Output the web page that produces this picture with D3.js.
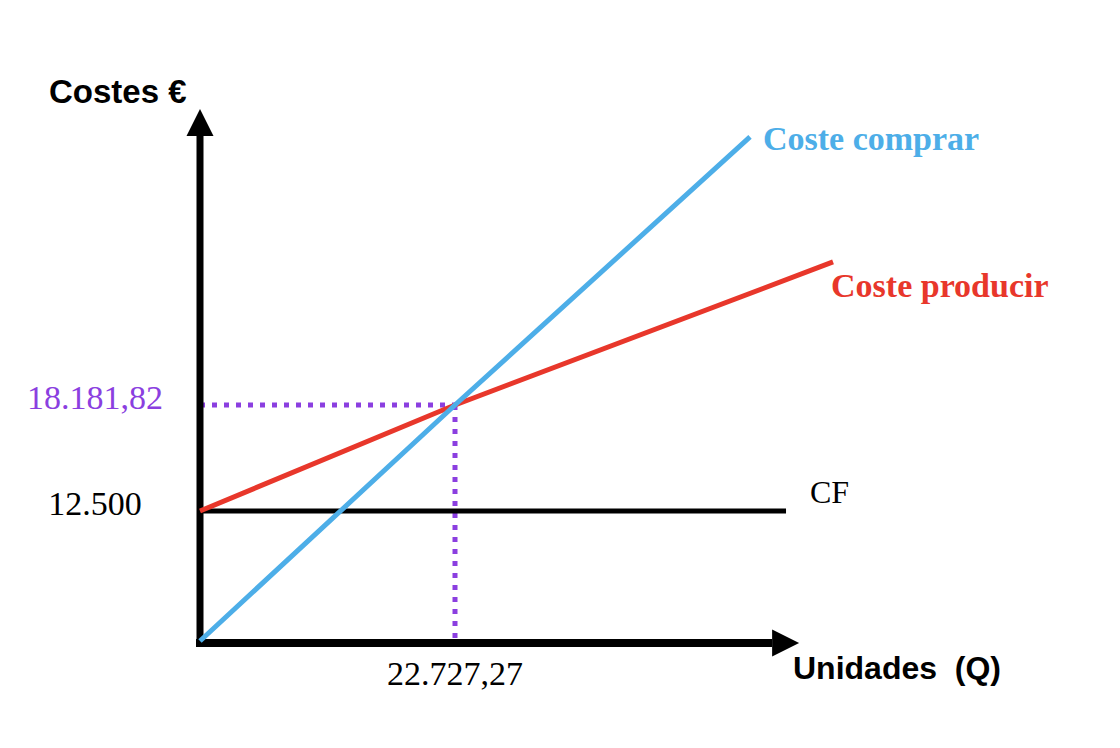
<!DOCTYPE html>
<html>
<head>
<meta charset="utf-8">
<script src="https://cdn.jsdelivr.net/npm/d3@7"></script>
<style>
  body { margin: 0; background: #fff; }
  svg { display: block; }
  .sans { font-family: "Liberation Sans", Arial, sans-serif; font-weight: bold; }
  .serif { font-family: "Liberation Serif", "Times New Roman", serif; }
</style>
</head>
<body>
<div id="chart"></div>
<script>
// break-even point and fixed cost (values written on the chart)
const qEquilibrio = 22727.27;
const costeEquilibrio = 18181.82;
const costeFijo = 12500;

// series, [Q, coste] (it is not to scale)
const costeComprar = [[0, 0], [qEquilibrio, costeEquilibrio], [49020, 32550]];
const costeProducir = [[0, costeFijo], [qEquilibrio, costeEquilibrio], [56420, 25850]];
const cf = [[0, costeFijo], [52230, costeFijo]];

// tick labels
const yLabels = [
  { value: costeEquilibrio, text: '18.181,82', color: '#8b3fe0' },
  { value: costeFijo, text: '12.500', color: '#000' },
];
const xLabels = [{ value: qEquilibrio, text: '22.727,27' }];

// axis ends (arrow tips)
const qMax = 53400;
const costeMax = 34050;

const width = 1120;
const height = 748;

const svg = d3.select('#chart')
  .append('svg')
  .attr('width', width)
  .attr('height', height);

const xScale = d3.scaleLinear().domain([0, qEquilibrio]).range([200, 455]);
// sketch is not proportional: piecewise scale through the labelled values
const yScale = d3.scaleLinear()
  .domain([0, costeFijo, costeEquilibrio])
  .range([641, 511, 405]);

const line = d3.line()
  .x(d => xScale(d[0]))
  .y(d => yScale(d[1]));

const x0 = xScale(0), y0 = yScale(0) + 2;

// dotted guides to the break-even point
const guides = svg.append('g')
  .attr('stroke', '#8b3fe0')
  .attr('stroke-width', 5)
  .attr('stroke-dasharray', '5,7')
  .attr('fill', 'none');
guides.append('path')
  .attr('d', line([[0, costeEquilibrio], [qEquilibrio, costeEquilibrio]]));
guides.append('path')
  .attr('d', `M${xScale(qEquilibrio)},${yScale(costeEquilibrio)}V${y0}`);

// axes
const head = 27;
svg.append('path')
  .attr('d', `M${x0},${y0 + 4}V${yScale(costeMax) + head}`)
  .attr('stroke', '#000').attr('stroke-width', 7);
svg.append('path')
  .attr('d', `M${x0},${yScale(costeMax)}l${-head / 2},${head}h${head}z`)
  .attr('fill', '#000');
svg.append('path')
  .attr('d', `M${x0 - 4},${y0}H${xScale(qMax) - head}`)
  .attr('stroke', '#000').attr('stroke-width', 8);
svg.append('path')
  .attr('d', `M${xScale(qMax)},${y0}l${-head},${-head / 2}v${head}z`)
  .attr('fill', '#000');

// cost lines
svg.append('path').attr('d', line(cf))
  .attr('fill', 'none').attr('stroke', '#000').attr('stroke-width', 5);
svg.append('path').attr('d', line(costeProducir))
  .attr('fill', 'none').attr('stroke', '#e8372b').attr('stroke-width', 5);
svg.append('path').attr('d', line(costeComprar))
  .attr('fill', 'none').attr('stroke', '#4daee8').attr('stroke-width', 5);

// line labels
const lastC = costeComprar[costeComprar.length - 1];
svg.append('text').attr('class', 'serif')
  .attr('x', xScale(lastC[0]) + 13).attr('y', yScale(lastC[1]) + 13)
  .attr('font-size', 34).attr('font-weight', 'bold').attr('fill', '#4daee8')
  .text('Coste comprar');
const lastP = costeProducir[costeProducir.length - 1];
svg.append('text').attr('class', 'serif')
  .attr('x', xScale(lastP[0]) - 2).attr('y', yScale(lastP[1]) + 35)
  .attr('font-size', 34).attr('font-weight', 'bold').attr('fill', '#e8372b')
  .text('Coste producir');
const lastF = cf[cf.length - 1];
svg.append('text').attr('class', 'serif')
  .attr('x', xScale(lastF[0]) + 24).attr('y', yScale(lastF[1]) - 8)
  .attr('font-size', 32).attr('fill', '#000')
  .text('CF');

// value labels
svg.append('g').selectAll('text')
  .data(yLabels)
  .join('text')
  .attr('class', 'serif')
  .attr('x', x0 - 105).attr('y', d => yScale(d.value) + 4)
  .attr('text-anchor', 'middle')
  .attr('font-size', 34)
  .attr('fill', d => d.color)
  .text(d => d.text);
svg.append('g').selectAll('text')
  .data(xLabels)
  .join('text')
  .attr('class', 'serif')
  .attr('x', d => xScale(d.value)).attr('y', y0 + 42)
  .attr('text-anchor', 'middle')
  .attr('font-size', 34)
  .text(d => d.text);

// axis titles
svg.append('text').attr('class', 'sans')
  .attr('x', 49).attr('y', 103)
  .attr('font-size', 33)
  .text('Costes €');
svg.append('text').attr('class', 'sans')
  .attr('x', 793).attr('y', 679)
  .attr('font-size', 32)
  .attr('xml:space', 'preserve')
  .text('Unidades  (Q)');
</script>
</body>
</html>
